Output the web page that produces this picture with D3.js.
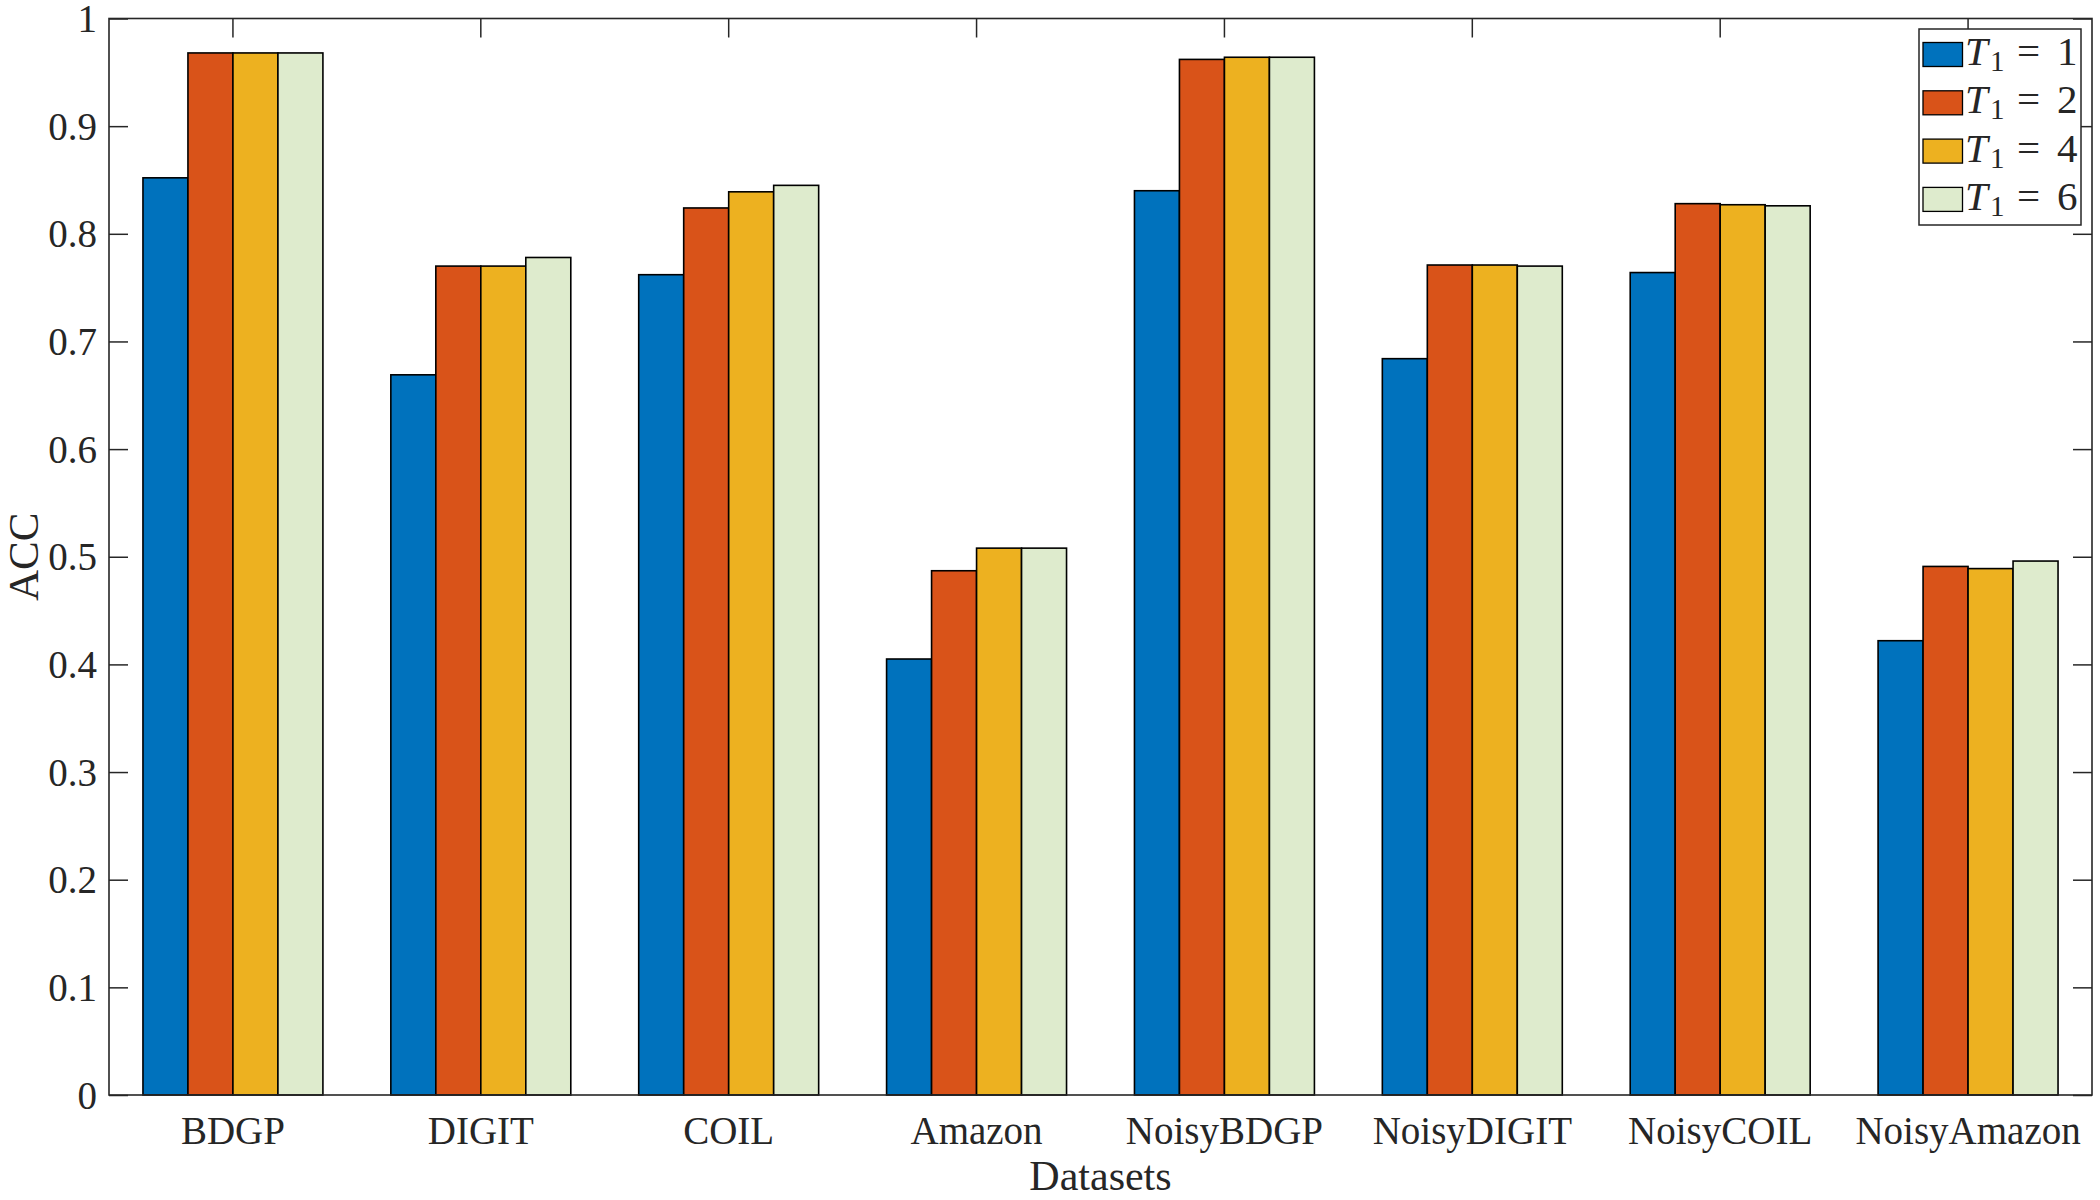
<!DOCTYPE html>
<html lang="en">

<head>
    <meta charset="UTF-8">
    <title>ACC vs T1</title>
    <script src="https://cdn.jsdelivr.net/npm/d3@7/dist/d3.min.js"></script>
    <style>
        * {
            margin: 0;
            padding: 0;
        }

        body {
            background: #fff;
        }

        svg text {
            font-family: "Liberation Serif", "Times New Roman", serif;
            fill: #262626;
        }
    </style>
</head>

<body>
    <div id="chart"></div>
    <script>
        // 数据
        const categories = ['BDGP', 'DIGIT', 'COIL', 'Amazon', 'NoisyBDGP', 'NoisyDIGIT', 'NoisyCOIL', 'NoisyAmazon'];
        const t1Values = ['1', '2', '4', '6'];
        const accT1_1 = [0.852, 0.669, 0.762, 0.405, 0.840, 0.684, 0.764, 0.422];
        const accT1_2 = [0.968, 0.770, 0.824, 0.487, 0.962, 0.771, 0.828, 0.491];
        const accT1_4 = [0.968, 0.770, 0.839, 0.508, 0.964, 0.771, 0.827, 0.489];
        const accT1_6 = [0.968, 0.778, 0.845, 0.508, 0.964, 0.770, 0.826, 0.496];
        const yTicks = [0, 0.1, 0.2, 0.3, 0.4, 0.5, 0.6, 0.7, 0.8, 0.9, 1];

        const seriesList = [accT1_1, accT1_2, accT1_4, accT1_6];
        const colorList = ['#0072BD', '#D95319', '#EDB120', '#DEEBCD'];

        const svgWidth = 2100;
        const svgHeight = 1200;
        const margin = {
            top: 18.5,
            right: 8,
            bottom: 105,
            left: 109
        };
        const innerW = svgWidth - margin.left - margin.right;
        const innerH = svgHeight - margin.top - margin.bottom;
        const tickLen = 19;
        const axisColor = '#262626';

        const svg = d3.select('#chart')
            .append('svg')
            .attr('width', svgWidth)
            .attr('height', svgHeight);

        svg.append('rect')
            .attr('width', svgWidth)
            .attr('height', svgHeight)
            .attr('fill', '#fff');

        const g = svg.append('g')
            .attr('transform', `translate(${margin.left},${margin.top})`);

        // 比例尺
        const x0 = d3.scaleBand()
            .domain(categories)
            .range([0, innerW])
            .paddingInner(0.274)
            .paddingOuter(0.137);

        const x1 = d3.scaleBand()
            .domain(t1Values)
            .range([0, x0.bandwidth()]);

        const y = d3.scaleLinear()
            .domain([0, 1])
            .range([innerH, 0]);

        // 刻度线 (朝内)
        const yAxisL = d3.axisLeft(y).tickValues(yTicks).tickSize(-tickLen).tickFormat('');
        const yAxisR = d3.axisRight(y).tickValues(yTicks).tickSize(-tickLen).tickFormat('');
        const xAxisT = d3.axisTop(x0).tickSize(-tickLen).tickFormat('');
        const xAxisB = d3.axisBottom(x0).tickSize(-tickLen).tickFormat('');

        [
            [yAxisL, 'translate(0,0)'],
            [yAxisR, `translate(${innerW},0)`],
            [xAxisT, 'translate(0,0)'],
            [xAxisB, `translate(0,${innerH})`]
        ].forEach(([ax, tr]) => {
            const a = g.append('g').attr('transform', tr).call(ax);
            a.select('.domain').remove();
            a.selectAll('line').attr('stroke', axisColor).attr('stroke-width', 1.5);
        });

        // 柱子
        const groups = g.selectAll('.grp')
            .data(categories)
            .enter()
            .append('g')
            .attr('class', 'grp')
            .attr('transform', d => `translate(${x0(d)},0)`);

        groups.selectAll('rect')
            .data((d, ci) => t1Values.map((t, si) => ({ t, si, v: seriesList[si][ci] })))
            .enter()
            .append('rect')
            .attr('x', d => x1(d.t))
            .attr('y', d => y(d.v))
            .attr('width', x1.bandwidth())
            .attr('height', d => innerH - y(d.v))
            .attr('fill', d => colorList[d.si])
            .attr('stroke', '#000')
            .attr('stroke-width', 1.6);

        // 坐标框
        g.append('rect')
            .attr('x', 0)
            .attr('y', 0)
            .attr('width', innerW)
            .attr('height', innerH)
            .attr('fill', 'none')
            .attr('stroke', axisColor)
            .attr('stroke-width', 1.6);

        // 刻度文字
        g.selectAll('.ylab')
            .data(yTicks)
            .enter()
            .append('text')
            .attr('x', -12)
            .attr('y', d => y(d))
            .attr('dy', '0.35em')
            .attr('text-anchor', 'end')
            .attr('font-size', 39)
            .text(d => d3.format('~g')(d));

        g.selectAll('.xlab')
            .data(categories)
            .enter()
            .append('text')
            .attr('x', d => x0(d) + x0.bandwidth() / 2)
            .attr('y', innerH + 49)
            .attr('text-anchor', 'middle')
            .attr('font-size', 39)
            .text(d => d);

        // 轴标题
        svg.append('text')
            .attr('transform', `translate(38,${margin.top + innerH / 2}) rotate(-90)`)
            .attr('text-anchor', 'middle')
            .attr('font-size', 43)
            .text('ACC');

        svg.append('text')
            .attr('x', margin.left + innerW / 2)
            .attr('y', 1190)
            .attr('text-anchor', 'middle')
            .attr('font-size', 42)
            .text('Datasets');

        // 图例
        const legend = svg.append('g')
            .attr('transform', 'translate(1919,29)');

        legend.append('rect')
            .attr('width', 162)
            .attr('height', 196)
            .attr('fill', '#fff')
            .attr('stroke', axisColor)
            .attr('stroke-width', 1.5);

        const rowH = 48.3;
        const items = legend.selectAll('.item')
            .data(t1Values)
            .enter()
            .append('g')
            .attr('transform', (d, i) => `translate(0,${i * rowH})`);

        items.append('rect')
            .attr('x', 4)
            .attr('y', 13.5)
            .attr('width', 39.5)
            .attr('height', 24)
            .attr('fill', (d, i) => colorList[i])
            .attr('stroke', '#000')
            .attr('stroke-width', 1.3);

        const lt = items.append('text')
            .attr('y', 36)
            .attr('font-size', 41);
        lt.append('tspan')
            .attr('x', 46)
            .attr('font-style', 'italic')
            .text('T');
        lt.append('tspan')
            .attr('x', 71)
            .attr('dy', 6)
            .attr('font-size', 29)
            .text('1');
        lt.append('tspan')
            .attr('x', 98)
            .attr('dy', -6)
            .text('=');
        lt.append('tspan')
            .attr('x', 138)
            .text(d => d);
    </script>
</body>

</html>
